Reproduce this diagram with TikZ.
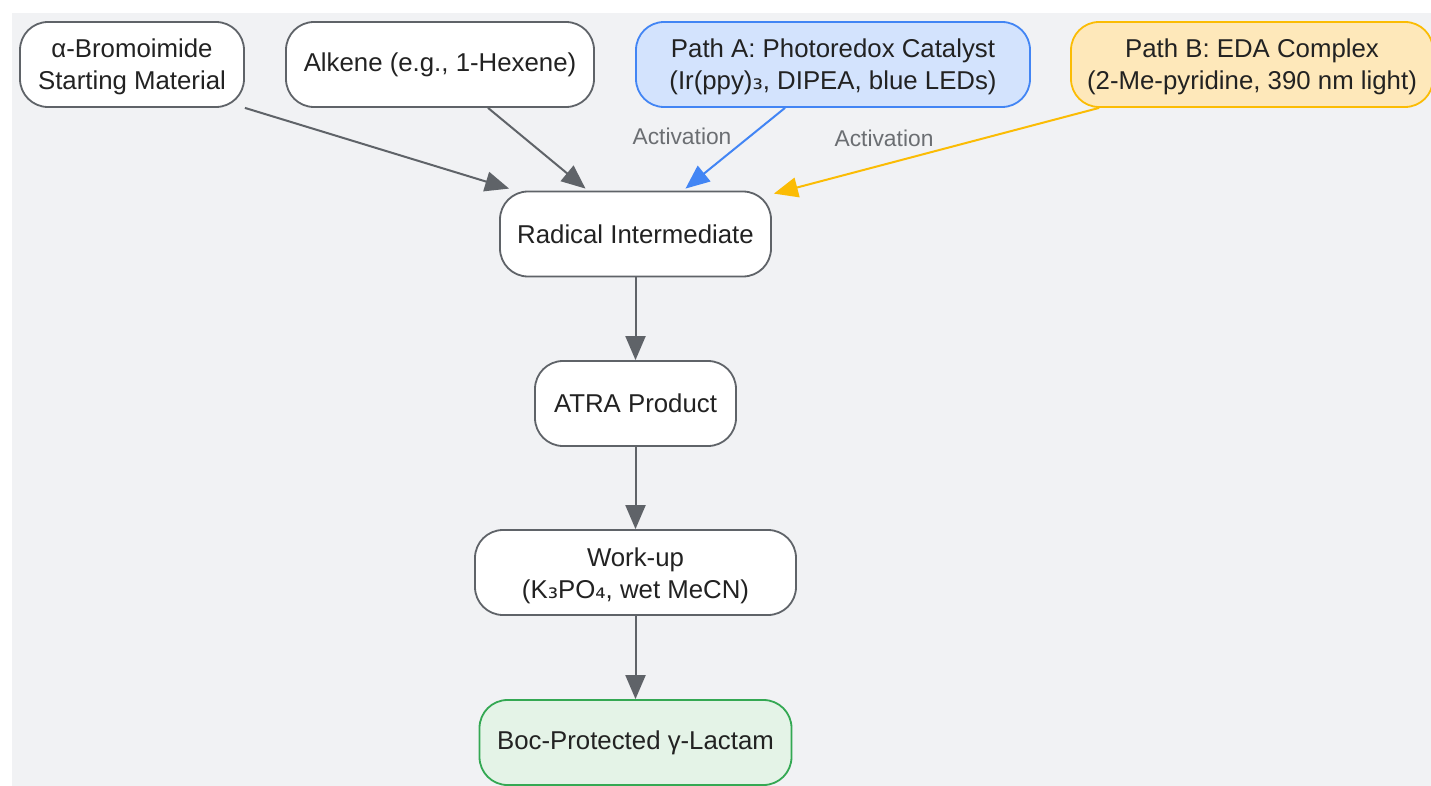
\documentclass[tikz,border=0pt]{standalone}
\usepackage{fontspec}
\setmainfont{Liberation Sans}
\newfontfamily\dvs{DejaVu Sans}
\usetikzlibrary{arrows.meta,calc}
\definecolor{bgc}{HTML}{F1F2F4}
\definecolor{strokegray}{HTML}{5F6368}
\definecolor{txt}{HTML}{222222}
\definecolor{lblgray}{HTML}{6B6E72}
\definecolor{blueS}{HTML}{4285F4}
\definecolor{blueF}{HTML}{D3E3FD}
\definecolor{yelS}{HTML}{FBBC04}
\definecolor{yelF}{HTML}{FEE8BA}
\definecolor{grnS}{HTML}{34A853}
\definecolor{grnF}{HTML}{E4F3E7}
\begin{document}
\begin{tikzpicture}[x=1pt,y=-1pt,
  box/.style={draw=strokegray, line width=1.8pt, fill=white, rounded corners=28pt,
    minimum height=85pt, inner sep=0pt, align=center, text=txt,
    font=\fontsize{25.8}{32}\selectfont},
  twoline/.style={text height=51pt, text depth=0pt},
  bluebox/.style={box, draw=blueS, fill=blueF},
  yelbox/.style={box, draw=yelS, fill=yelF},
  grnbox/.style={box, draw=grnS, fill=grnF},
  edge/.style={draw=strokegray, line width=2pt, -{Triangle[length=24pt,width=20pt]}},
  lbl/.style={text=lblgray, font=\fontsize{22.8}{27}\selectfont, inner sep=0pt}
]
\useasboundingbox (0,0) rectangle (1431,786);
\fill[bgc] (12,13) rectangle (1431,786);

\node[box, twoline, minimum width=224pt] (bromo) at (132,64.5) {α-Bromoimide\\Starting Material};
\node[box, minimum width=308pt] (alkene) at (440,64.5) {Alkene (e.g., 1-Hexene)};
\node[bluebox, twoline, minimum width=394pt] (patha) at (833,64.5) {Path A: Photoredox Catalyst\\(Ir(ppy){\dvs ₃}, DIPEA, blue LEDs)};
\node[yelbox, twoline, minimum width=362pt] (pathb) at (1252,64.5) {Path B: EDA Complex\\(2-Me-pyridine, 390 nm light)};
\node[box, minimum width=271pt] (radical) at (635.5,234) {Radical Intermediate};
\node[box, minimum width=201pt] (atra) at (635.5,403.5) {ATRA Product};
\node[box, twoline, minimum width=321pt] (workup) at (635.5,572.5) {Work-up\\(K{\dvs ₃}PO{\dvs ₄}, wet MeCN)};
\node[grnbox, minimum width=312pt] (boc) at (635.5,742.5) {Boc-Protected γ-Lactam};

\draw[edge] (bromo.south east) -- ($(radical.north west)+(10,-2)$);
\draw[edge] ($(alkene.south)+(48,0)$) -- ($(radical.north)+(-50,-2)$);
\draw[edge, draw=blueS] ($(patha.south)+(-48,0)$) -- ($(radical.north)+(50,-2)$);
\draw[edge, draw=yelS] ($(pathb.south west)+(29,0)$) -- ($(radical.north east)+(2,3)$);
\node[lbl] (la) at (682,136) {Activation};
\node[lbl] (lb) at (884,138) {Activation};

\draw[edge] (radical) -- (atra);
\draw[edge] (atra) -- (workup);
\draw[edge] (workup) -- (boc);
\end{tikzpicture}
\end{document}
